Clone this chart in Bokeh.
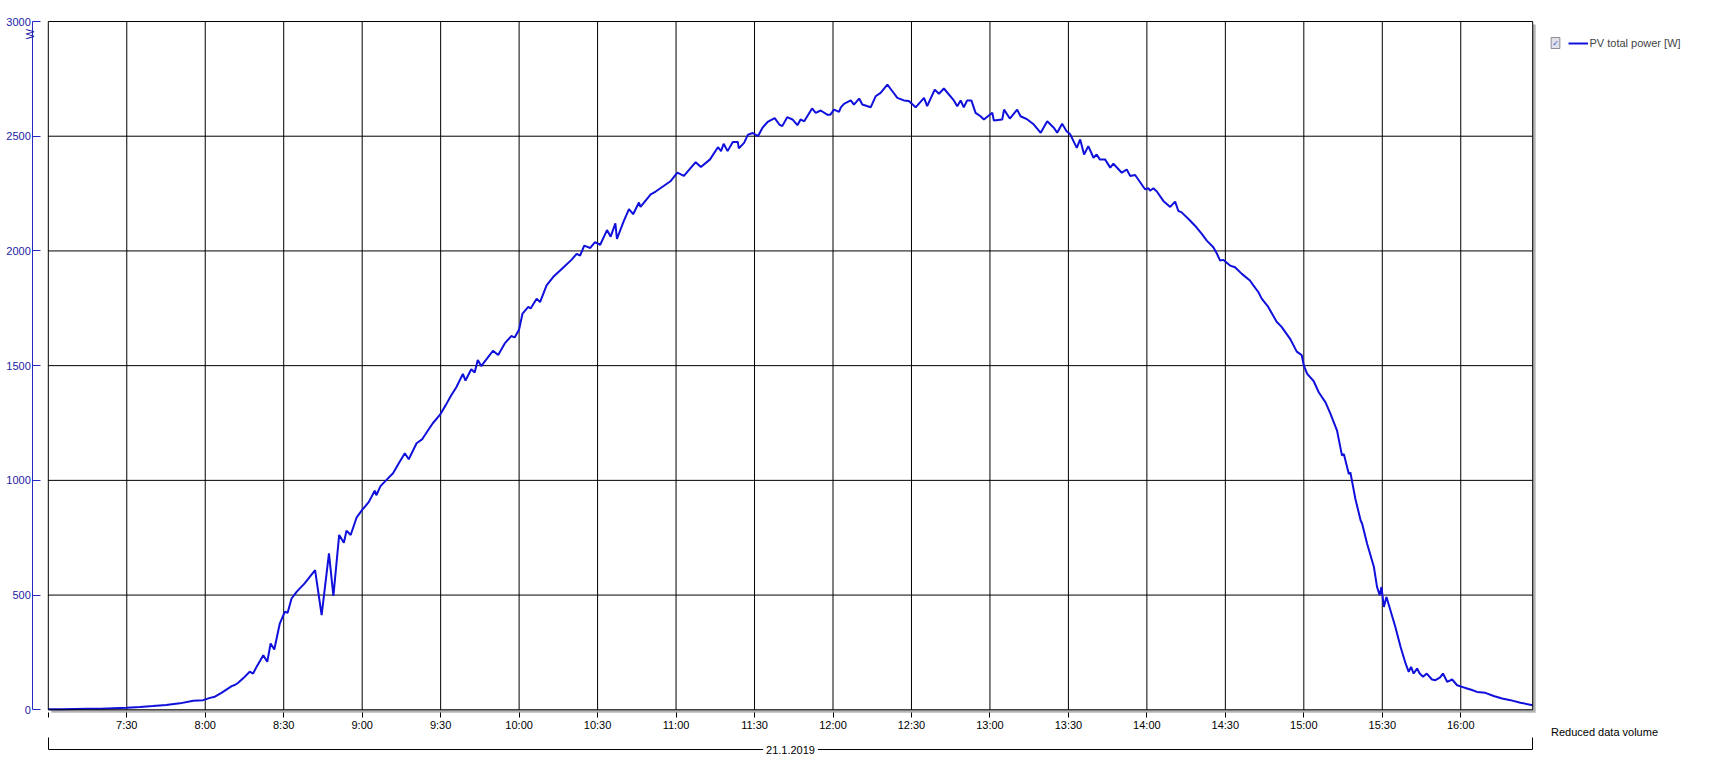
import math
from bokeh.plotting import figure
from bokeh.models import (Range1d, LinearAxis, FixedTicker, Label, Legend, LegendItem)
from bokeh.embed import file_html
from bokeh.resources import INLINE

# ---------------- data ----------------
time_labels = [
    "7:00:00", "7:05:00", "7:10:00", "7:15:00", "7:20:00", "7:25:00", "7:30:00", "7:35:00",
    "7:40:00", "7:45:00", "7:50:18", "7:55:24", "7:59:12", "8:01:48", "8:03:42", "8:06:12",
    "8:10:06", "8:11:18", "8:12:36", "8:14:30", "8:17:00", "8:18:18", "8:19:36", "8:22:12",
    "8:23:42", "8:25:00", "8:26:24", "8:28:30", "8:30:24", "8:31:30", "8:33:00", "8:35:00",
    "8:38:00", "8:42:00", "8:44:30", "8:47:18", "8:49:00", "8:51:12", "8:53:00", "8:54:00",
    "8:55:36", "8:57:54", "9:00:00", "9:02:30", "9:04:48", "9:05:24", "9:07:00", "9:09:18",
    "9:11:48", "9:14:00", "9:16:18", "9:17:48", "9:20:48", "9:23:00", "9:25:00", "9:27:00",
    "9:29:42", "9:32:00", "9:34:00", "9:36:00", "9:38:30", "9:39:30", "9:41:42", "9:43:00",
    "9:44:12", "9:45:30", "9:48:00", "9:50:00", "9:52:00", "9:54:30", "9:57:00", "9:58:18",
    "10:00:00", "10:01:18", "10:03:30", "10:04:24", "10:06:42", "10:08:00", "10:10:30", "10:13:00",
    "10:17:00", "10:20:00", "10:22:00", "10:23:18", "10:24:54", "10:27:12", "10:29:00", "10:31:00",
    "10:33:36", "10:35:00", "10:36:48", "10:37:24", "10:40:00", "10:42:00", "10:43:36", "10:45:48",
    "10:46:24", "10:50:18", "10:52:12", "10:54:00", "10:58:00", "11:00:30", "11:03:00", "11:07:30",
    "11:09:30", "11:13:00", "11:16:00", "11:17:12", "11:18:12", "11:19:42", "11:21:42", "11:23:36",
    "11:24:00", "11:26:00", "11:27:30", "11:29:18", "11:31:18", "11:33:00", "11:35:00", "11:37:42",
    "11:39:30", "11:40:36", "11:42:30", "11:44:30", "11:46:24", "11:47:36", "11:49:00", "11:52:00",
    "11:53:24", "11:55:18", "11:57:48", "11:59:00", "12:00:24", "12:02:18", "12:03:00", "12:04:12",
    "12:06:48", "12:08:00", "12:10:00", "12:11:12", "12:14:24", "12:16:18", "12:18:12", "12:20:48",
    "12:22:42", "12:24:36", "12:27:06", "12:29:00", "12:31:36", "12:34:48", "12:36:00", "12:38:54",
    "12:40:30", "12:42:24", "12:46:12", "12:47:30", "12:48:48", "12:50:00", "12:51:18", "12:52:54",
    "12:54:30", "12:56:24", "12:57:42", "13:00:54", "13:01:30", "13:04:42", "13:05:24", "13:07:36",
    "13:10:24", "13:11:42", "13:14:18", "13:16:48", "13:19:24", "13:21:54", "13:24:30", "13:25:42",
    "13:27:36", "13:29:18", "13:30:36", "13:33:12", "13:34:30", "13:36:00", "13:37:36", "13:39:36",
    "13:40:48", "13:42:00", "13:44:00", "13:46:00", "13:47:12", "13:50:24", "13:52:18", "13:53:36",
    "13:55:30", "13:59:18", "14:00:36", "14:01:12", "14:02:30", "14:03:48", "14:06:18", "14:08:54",
    "14:10:48", "14:12:00", "14:13:18", "14:16:24", "14:18:24", "14:21:00", "14:22:54", "14:25:24",
    "14:26:42", "14:28:00", "14:29:18", "14:31:48", "14:33:42", "14:36:18", "14:39:24", "14:40:42",
    "14:42:36", "14:43:54", "14:46:24", "14:49:36", "14:51:30", "14:54:42", "14:57:18", "14:59:12",
    "15:00:00", "15:01:18", "15:03:48", "15:05:42", "15:08:18", "15:10:12", "15:12:42", "15:14:36",
    "15:15:18", "15:17:12", "15:17:48", "15:19:42", "15:21:42", "15:22:18", "15:24:12", "15:26:48",
    "15:28:00", "15:29:00", "15:29:42", "15:30:36", "15:31:36", "15:33:06", "15:35:00", "15:37:00",
    "15:38:54", "15:40:06", "15:41:00", "15:42:00", "15:43:18", "15:44:18", "15:45:36", "15:47:00",
    "15:49:00", "15:50:18", "15:52:00", "15:53:12", "15:54:48", "15:56:42", "15:58:36", "16:00:30",
    "16:02:24", "16:04:18", "16:06:12", "16:09:24", "16:12:36", "16:15:48", "16:19:00", "16:22:48",
    "16:27:30",
]
power_w = [
    2, 2, 3, 4, 5, 7, 9, 12,
    16, 21, 28, 39, 42, 52, 57, 74,
    103, 108, 118, 137, 166, 158, 187, 238,
    209, 289, 263, 376, 427, 423, 485, 515,
    551, 609, 413, 682, 496, 762, 728, 781,
    762, 839, 871, 905, 955, 935, 975, 1002,
    1031, 1075, 1118, 1092, 1162, 1180, 1215, 1249,
    1285, 1329, 1370, 1406, 1464, 1435, 1484, 1470,
    1525, 1498, 1535, 1565, 1546, 1597, 1629, 1623,
    1658, 1727, 1756, 1749, 1792, 1777, 1850, 1886,
    1929, 1961, 1987, 1980, 2023, 2013, 2038, 2027,
    2091, 2062, 2120, 2052, 2130, 2182, 2160, 2211,
    2192, 2247, 2259, 2273, 2305, 2341, 2327, 2387,
    2366, 2399, 2452, 2435, 2467, 2435, 2475, 2475,
    2447, 2471, 2507, 2514, 2500, 2536, 2562, 2579,
    2551, 2544, 2583, 2573, 2548, 2573, 2565, 2621,
    2602, 2612, 2594, 2594, 2616, 2606, 2626, 2641,
    2656, 2638, 2664, 2638, 2626, 2674, 2689, 2725,
    2696, 2667, 2656, 2653, 2626, 2667, 2631, 2703,
    2685, 2708, 2656, 2631, 2656, 2626, 2656, 2656,
    2602, 2587, 2573, 2602, 2568, 2573, 2616, 2577,
    2616, 2587, 2573, 2551, 2515, 2565, 2536, 2515,
    2554, 2522, 2510, 2449, 2486, 2420, 2457, 2406,
    2420, 2399, 2399, 2363, 2380, 2341, 2355, 2327,
    2331, 2269, 2273, 2262, 2273, 2259, 2218, 2192,
    2215, 2175, 2168, 2134, 2110, 2074, 2045, 2016,
    1990, 1958, 1961, 1936, 1929, 1900, 1871, 1850,
    1821, 1792, 1756, 1691, 1669, 1618, 1561, 1546,
    1500, 1464, 1432, 1384, 1340, 1290, 1217, 1108,
    1115, 1028, 1035, 920, 826, 811, 724, 622,
    535, 499, 535, 448, 492, 434, 361, 274,
    202, 165, 187, 158, 180, 158, 144, 158,
    132, 129, 140, 158, 122, 132, 107, 100,
    93, 86, 78, 74, 60, 49, 42, 31,
    20,
]
tick_labels = ["7:30", "8:00", "8:30", "9:00", "9:30", "10:00", "10:30", "11:00", "11:30",
               "12:00", "12:30", "13:00", "13:30", "14:00", "14:30", "15:00", "15:30", "16:00"]
y_ticks = [0, 500, 1000, 1500, 2000, 2500, 3000]
series_name = "PV total power [W]"
y_unit = "W"
date_label = "21.1.2019"
note_label = "Reduced data volume"


def to_hours(s):
    parts = [int(v) for v in s.split(":")]
    while len(parts) < 3:
        parts.append(0)
    return parts[0] + parts[1] / 60.0 + parts[2] / 3600.0


times = [to_hours(s) for s in time_labels]
tick_pos = [to_hours(s) for s in tick_labels]
t_first, t_last = times[0], times[-1]
y_top = y_ticks[-1]

# ---------------- layout (canvas pixels; the frame covers the whole canvas) ----------------
W, H = 1724, 759
PX_PER_H = 156.94            # pixels per hour
PX_PER_W = 0.22943           # pixels per watt
T0_PX = 47.8                 # x pixel of the first time
YTOP_PX = 21.0               # y pixel of the top tick

x_start = t_first - T0_PX / PX_PER_H
x_end = x_start + W / PX_PER_H
y_end = y_top + YTOP_PX / PX_PER_W
y_start = y_end - H / PX_PER_W


def fx(px):
    return x_start + px / PX_PER_H


def fy(py):
    return y_end - py / PX_PER_W


FONT = "Liberation Sans"
FS = "11px"
BLUE_AX = "#2626c4"
BLUE_TX = "#1c1ca6"
LINE_BLUE = "#1010dc"

p = figure(width=W, height=H, x_range=Range1d(x_start, x_end), y_range=Range1d(y_start, y_end),
           x_axis_type=None, y_axis_type=None, output_backend="svg", toolbar_location=None,
           min_border_left=0, min_border_top=0, min_border_right=0, min_border_bottom=0,
           outline_line_color=None, background_fill_color="white", border_fill_color="white")

# chart box with drop shadow
sh_x = 3 / PX_PER_H
sh_y = 3 / PX_PER_W
p.quad(left=[t_first + sh_x], right=[t_last + sh_x], bottom=[0 - sh_y], top=[y_top - sh_y],
       fill_color="#b4b4b4", line_color=None)
p.quad(left=[t_first], right=[t_last], bottom=[0], top=[y_top], fill_color="white", line_color=None)

# grid
p.segment(x0=tick_pos, y0=[0] * len(tick_pos), x1=tick_pos, y1=[y_top] * len(tick_pos),
          line_color="black", line_width=1)
inner = y_ticks[1:-1]
p.segment(x0=[t_first] * len(inner), y0=inner, x1=[t_last] * len(inner), y1=inner,
          line_color="black", line_width=1)

# data line
line_r = p.line(times, power_w, line_color=LINE_BLUE, line_width=2)

# border
p.quad(left=[t_first], right=[t_last], bottom=[0], top=[y_top], fill_color=None,
       line_color="black", line_width=1)

# y axis (blue, inward ticks), drawn at a fixed place left of the chart box
yaxis = LinearAxis(ticker=FixedTicker(ticks=y_ticks), bounds=(0, y_top), fixed_location=fx(32.3),
                   axis_line_color=BLUE_AX, major_tick_line_color=BLUE_AX,
                   major_tick_in=8, major_tick_out=0, minor_tick_line_color=None,
                   major_label_text_color=BLUE_TX, major_label_text_font=FONT,
                   major_label_text_font_size=FS, major_label_standoff=2)
p.add_layout(yaxis, "left")

# x axis just under the chart box
overrides = {t_first: ""}
for pos, lab in zip(tick_pos, tick_labels):
    overrides[pos] = lab
xaxis = LinearAxis(ticker=FixedTicker(ticks=[t_first] + tick_pos), fixed_location=fy(712),
                   axis_line_color=None, major_tick_line_color="black",
                   major_tick_out=5, major_tick_in=0, minor_tick_line_color=None,
                   major_label_overrides=overrides, major_label_text_color="black",
                   major_label_text_font=FONT, major_label_text_font_size=FS,
                   major_label_standoff=1)
p.add_layout(xaxis, "below")

# date bracket
bracket = LinearAxis(ticker=FixedTicker(ticks=[t_first, t_last]), bounds=(t_first, t_last),
                     fixed_location=fy(749), axis_line_color="black",
                     major_tick_line_color="black", major_tick_in=12, major_tick_out=0,
                     minor_tick_line_color=None, major_label_overrides={t_first: "", t_last: ""},
                     major_label_text_font_size="1px", major_label_standoff=0)
p.add_layout(bracket, "below")

p.add_layout(Label(x=(t_first + t_last) / 2, y=fy(749.5), text=date_label, text_align="center",
                   text_baseline="middle", text_font=FONT, text_font_size=FS,
                   text_color="black", background_fill_color="white", padding=3))
p.add_layout(Label(x=fx(1550.5), y=fy(731), text=note_label, text_align="left",
                   text_baseline="middle", text_font=FONT, text_font_size=FS, text_color="black"))
p.add_layout(Label(x=fx(29), y=fy(33.5), text=y_unit, angle=math.pi / 2, text_align="center",
                   text_baseline="middle", text_font=FONT, text_font_size=FS, text_color=BLUE_TX))

# legend with its checkbox
p.add_layout(Label(x=fx(1555), y=fy(42.5), text="\u2713", text_align="center",
                   text_baseline="middle", text_font="DejaVu Sans", text_font_size="8px",
                   text_color="#3550c8", background_fill_color="#dfe0e8",
                   border_line_color="#8a8c96", padding=1))
legend = Legend(items=[LegendItem(label=series_name, renderers=[line_r])],
                location=(1567.5, H - 48.5), margin=0, padding=0, spacing=0,
                glyph_width=20, glyph_height=10, label_standoff=2, label_height=12,
                label_text_font=FONT, label_text_font_size=FS, border_line_color=None,
                background_fill_alpha=0)
p.add_layout(legend, "center")

open("out.html", "w").write(file_html(p, INLINE))
